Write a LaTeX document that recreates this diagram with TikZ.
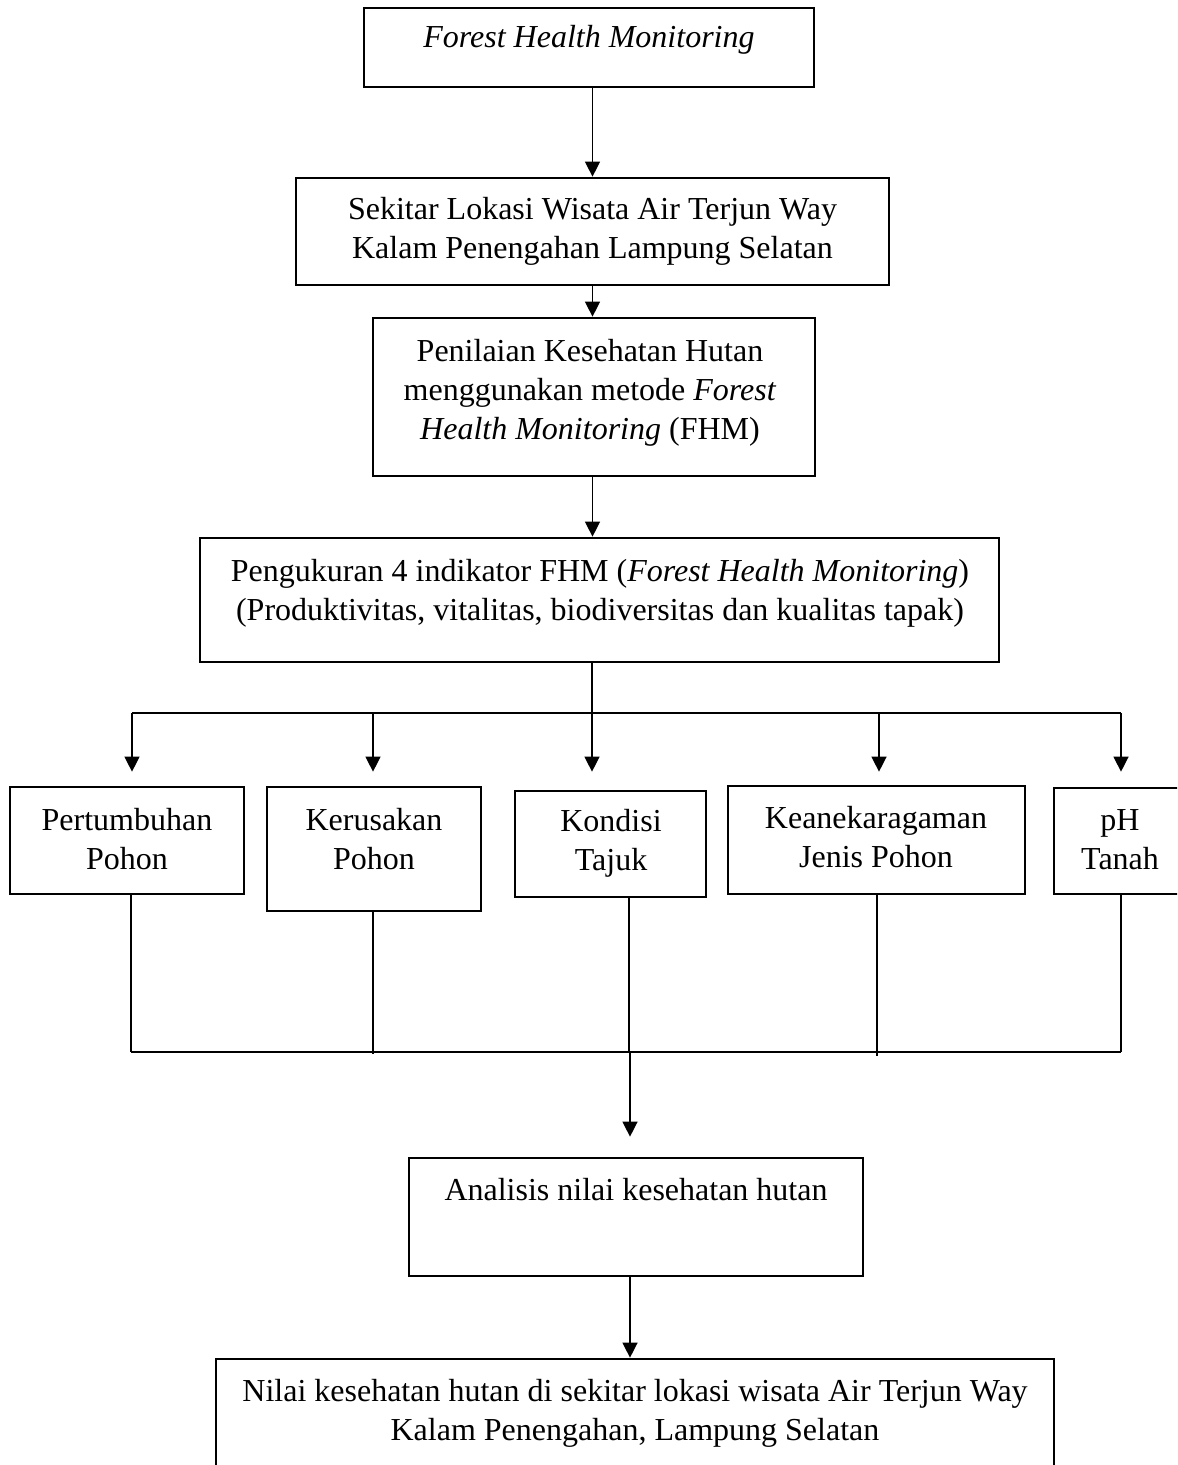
\documentclass[tikz,border=0pt]{standalone}
\usepackage{fontspec}
\setmainfont{Liberation Serif}
\usetikzlibrary{arrows.meta}
\begin{document}
\begin{tikzpicture}[x=0.5pt,y=-0.5pt,
  box/.style={draw, line width=1.35pt, inner sep=0pt},
  sz/.style 2 args={minimum width=#1*0.5pt, minimum height=#2*0.5pt},
  txt/.style={align=center, font=\fontsize{16}{19.5}\selectfont, inner sep=0pt},
  conn/.style={line width=0.65pt},
  arr/.style={conn, -{Triangle[length=7.5pt,width=7.5pt]}}]
\clip (0,0) rectangle (1177,1465);
% top chain
\node[box, sz={450}{79}] (A) at (589,47.5) {};
\node[txt] (At) at (589,40) {\textit{Forest Health Monitoring}};
\node[box, sz={593}{107}] (B) at (592.5,231.5) {};
\node[txt] (Bt) at (592.5,231) {Sekitar Lokasi Wisata Air Terjun Way\\Kalam Penengahan Lampung Selatan};
\node[box, sz={442}{158}] (C) at (594,397) {};
\node[txt] (Ct) at (590,393) {Penilaian Kesehatan Hutan\\menggunakan metode \textit{Forest}\\\textit{Health Monitoring} (FHM)};
\node[box, sz={799}{124}] (D) at (599.5,600) {};
\node[txt] (Dt) at (600,593) {Pengukuran 4 indikator FHM (\textit{Forest Health Monitoring})\\(Produktivitas, vitalitas, biodiversitas dan kualitas tapak)};
% row of indicators
\node[box, sz={234}{107}] (P1) at (127,840.5) {};
\node[txt] (P1t) at (127,839) {Pertumbuhan\\Pohon};
\node[box, sz={214}{124}] (P2) at (374,849) {};
\node[txt] (P2t) at (374,839) {Kerusakan\\Pohon};
\node[box, sz={191}{106}] (P3) at (610.5,844) {};
\node[txt] (P3t) at (611,843) {Kondisi\\Tajuk};
\node[box, sz={297}{108}] (P4) at (876.5,840) {};
\node[txt] (P4t) at (876,837) {Keanekaragaman\\Jenis Pohon};
\node[box, sz={132}{106}] (P5) at (1120,841) {};
\node[txt] (P5t) at (1120,840) {pH\\Tanah};
% bottom
\node[box, sz={454}{118}] (E) at (636,1217) {};
\node[txt] (Et) at (636,1190) {Analisis nilai kesehatan hutan};
\node[box, sz={838}{200}] (F) at (635,1459) {};
\node[txt] (Ft) at (635,1413) {Nilai kesehatan hutan di sekitar lokasi wisata Air Terjun Way\\Kalam Penengahan, Lampung Selatan};
% connectors top
\draw[arr] (B.north |- A.south) -- (B.north);
\draw[arr] (B.south) -- (B.south |- C.north);
\draw[arr] (C.south -| B.south) -- (D.north -| B.south);
\coordinate (hub) at (592,713);
\coordinate (hl) at (132,713);
\coordinate (h2) at (373,713);
\coordinate (h4) at (879,713);
\coordinate (hr) at (1121,713);
\draw[conn] (D.south -| hub) -- (hub);
\draw[conn] (hl) -- (hr);
\draw[arr, shorten >=7pt] (hl) -- (hl |- P1.north);
\draw[arr, shorten >=7pt] (h2) -- (h2 |- P2.north);
\draw[arr, shorten >=9pt] (hub) -- (hub |- P3.north);
\draw[arr, shorten >=6.5pt] (h4) -- (h4 |- P4.north);
\draw[arr, shorten >=7.5pt] (hr) -- (hr |- P5.north);
% connectors bottom
\coordinate (m1) at (131,1052);
\coordinate (m2) at (373,1054);
\coordinate (m3) at (629,1052);
\coordinate (m4) at (877,1056);
\coordinate (m5) at (1121,1052);
\draw[conn] (P1.south -| m1) -- (m1);
\draw[conn] (P2.south -| m2) -- (m2);
\draw[conn] (P3.south -| m3) -- (m3);
\draw[conn] (P4.south -| m4) -- (m4);
\draw[conn] (P5.south -| m5) -- (m5);
\draw[conn] (m1) -- (m5);
\coordinate (m) at (630,1052);
\draw[arr, shorten >=10pt] (m) -- (m |- E.north);
\draw[arr] (E.south -| m) -- (F.north -| m);
\end{tikzpicture}
\end{document}
